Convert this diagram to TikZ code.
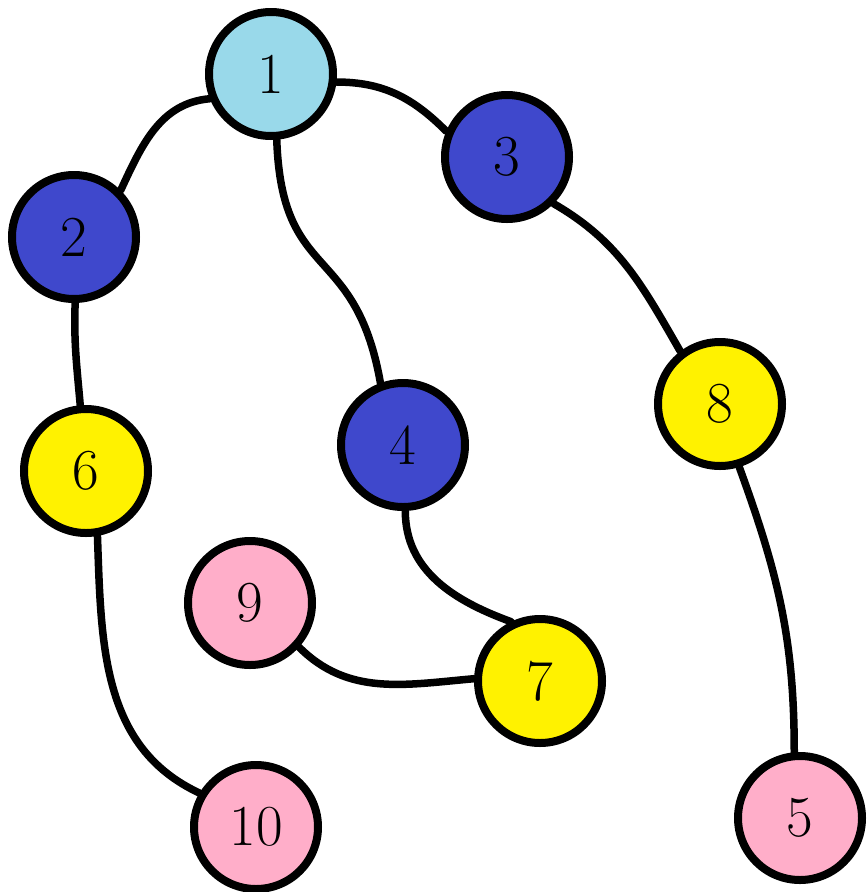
\documentclass[tikz,border=0pt]{standalone}
\usepackage{xcolor}
\usepackage{tikz}
\usetikzlibrary{positioning}
\definecolor{lightblue}{RGB}{153,217,234}
\definecolor{darkblue}{RGB}{63,72,204}
\definecolor{paintyellow}{RGB}{255,242,0}
\definecolor{paintpink}{RGB}{255,174,201}

\begin{document}
\begin{tikzpicture}[x=1pt, y=-1pt,
    vertex/.style={circle, draw=black, line width=8pt, minimum size=124pt,
      inner sep=0pt, font=\fontsize{58}{60}\selectfont},
    edge/.style={line width=7.5pt, line cap=round}]
  \useasboundingbox (0,0) rectangle (867,892);
  % Vertices
  \node[vertex, fill=lightblue]   (n1)  at (271,74)  {1};
  \node[vertex, fill=darkblue]    (n2)  at (74,237)  {2};
  \node[vertex, fill=darkblue]    (n3)  at (507,157) {3};
  \node[vertex, fill=darkblue]    (n4)  at (403,445) {4};
  \node[vertex, fill=paintpink]   (n5)  at (800,818) {5};
  \node[vertex, fill=paintyellow] (n6)  at (86,471)  {6};
  \node[vertex, fill=paintyellow] (n7)  at (540,681) {7};
  \node[vertex, fill=paintyellow] (n8)  at (720,404) {8};
  \node[vertex, fill=paintpink]   (n9)  at (250,603) {9};
  \node[vertex, fill=paintpink]   (n10) at (256,827) {10};
  % Edges
  \draw[edge] (n1.202) to[out=185, in=65] (n2.45);
  \draw[edge] (n1.353) to[out=0, in=135] (n3.157);
  \draw[edge] (n1.275) to[out=-88, in=100, looseness=1.4] (n4.110);
  \draw[edge] (n3.-45) to[out=-30, in=120] (n8.127);
  \draw[edge] (n2.-89) to[out=-92, in=95] (n6.95);
  \draw[edge] (n6.-80) to[out=-88, in=155] (n10.149);
  \draw[edge] (n4.-88) to[out=-90, in=160] (n7.116);
  \draw[edge] (n9.-42) to[out=-45, in=185] (n7.178);
  \draw[edge] (n8.-73) to[out=-70, in=90] (n5.95);
\end{tikzpicture}
\end{document}
